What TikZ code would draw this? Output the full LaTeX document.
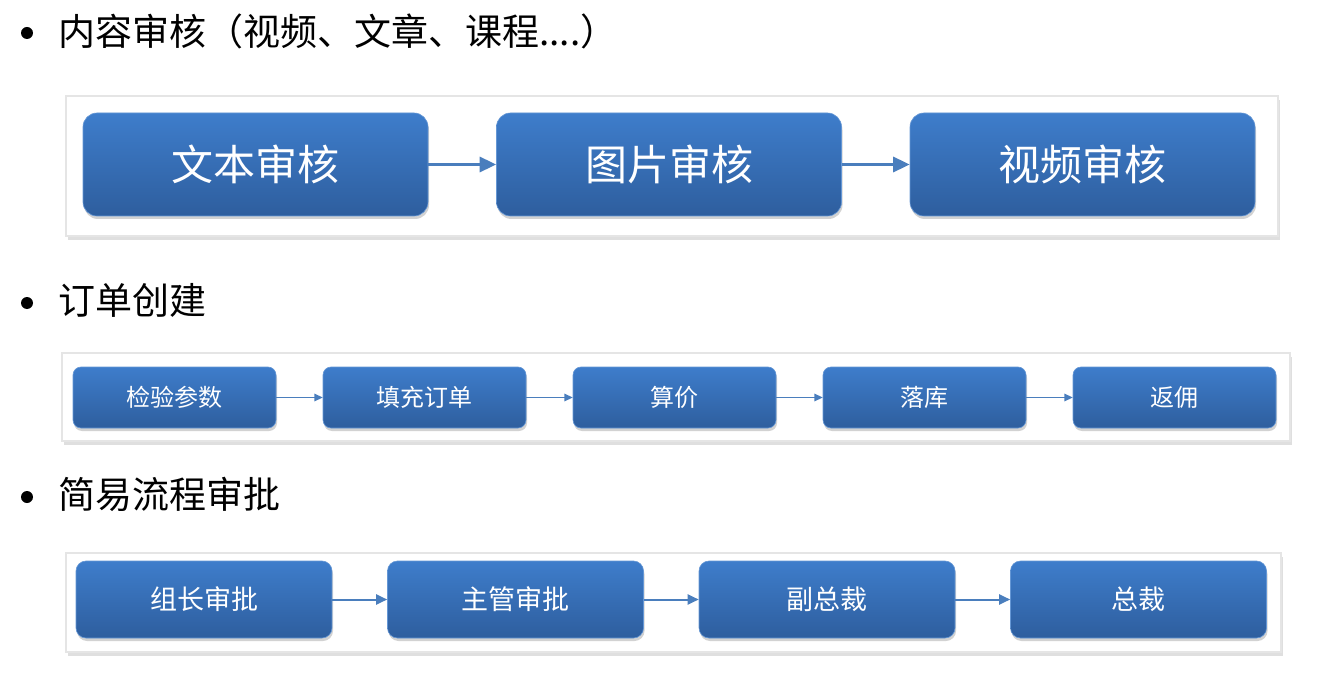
\documentclass[tikz,border=0pt]{standalone}
\usepackage{fontspec}
\usepackage{xcolor}
\usepackage{tikz}
\usetikzlibrary{arrows.meta,shadows}
\newfontfamily\cjk{Noto Sans CJK SC}
\definecolor{boxtop}{HTML}{3E7DCB}
\definecolor{boxbot}{HTML}{2E5E9E}
\definecolor{flowcol}{HTML}{4A7EBD}

\tikzset{
  panel/.style={fill=white,draw=black!10,line width=2pt,
    drop shadow={shadow xshift=2pt,shadow yshift=-4pt,opacity=0.25}},
  stage/.style={rounded corners=#1,top color=boxtop,bottom color=boxbot,
    draw=boxtop!80!white,line width=0.6pt,text=white,inner sep=0pt,
    drop shadow={shadow xshift=1pt,shadow yshift=-3pt,opacity=0.35}},
  flow/.style={draw=flowcol,line width=#1,-{Triangle[length=5.5*#1,width=5*#1]}},
  dot/.style={circle,fill=black,inner sep=0pt,minimum size=12pt},
  heading/.style={anchor=west,inner sep=0pt,font=\cjk\fontsize{37}{37}\selectfont}
}

\begin{document}
\begin{tikzpicture}[x=1pt,y=-1pt,font=\cjk]
\useasboundingbox (0,0) rectangle (1328,687);
% content review
\node[dot] (d1) at (27,33) {};
\node[heading] (h1) at (58,31) {内容审核（视频、文章、课程....）};
\fill[panel] (66,96) rectangle (1278,236);
\node[stage=14pt,minimum width=345pt,minimum height=103pt,font=\cjk\fontsize{42}{42}\selectfont] (t1) at (255.5,164.5) {文本审核};
\node[stage=14pt,minimum width=345pt,minimum height=103pt,font=\cjk\fontsize{42}{42}\selectfont] (t2) at (669,164.5) {图片审核};
\node[stage=14pt,minimum width=345pt,minimum height=103pt,font=\cjk\fontsize{42}{42}\selectfont] (t3) at (1082.5,164.5) {视频审核};
\foreach \a/\b in {t1/t2,t2/t3}{\draw[flow=3pt] (\a)--(\b);}
% order creation
\node[dot] (d2) at (27,303) {};
\node[heading] (h2) at (58,300) {订单创建};
\fill[panel] (62,353) rectangle (1290,441);
\node[stage=8pt,minimum width=203pt,minimum height=61pt,font=\cjk\fontsize{24}{24}\selectfont] (o1) at (174.5,397.5) {检验参数};
\node[stage=8pt,minimum width=203pt,minimum height=61pt,font=\cjk\fontsize{24}{24}\selectfont] (o2) at (424.5,397.5) {填充订单};
\node[stage=8pt,minimum width=203pt,minimum height=61pt,font=\cjk\fontsize{24}{24}\selectfont] (o3) at (674.5,397.5) {算价};
\node[stage=8pt,minimum width=203pt,minimum height=61pt,font=\cjk\fontsize{24}{24}\selectfont] (o4) at (924.5,397.5) {落库};
\node[stage=8pt,minimum width=203pt,minimum height=61pt,font=\cjk\fontsize{24}{24}\selectfont] (o5) at (1174.5,397.5) {返佣};
\foreach \a/\b in {o1/o2,o2/o3,o3/o4,o4/o5}{\draw[flow=1.5pt] (\a)--(\b);}
% approval
\node[dot] (d3) at (27,497) {};
\node[heading] (h3) at (58,494) {简易流程审批};
\fill[panel] (66,553) rectangle (1281,652);
\node[stage=10pt,minimum width=256pt,minimum height=77pt,font=\cjk\fontsize{27}{27}\selectfont] (a1) at (204,599.5) {组长审批};
\node[stage=10pt,minimum width=256pt,minimum height=77pt,font=\cjk\fontsize{27}{27}\selectfont] (a2) at (515.5,599.5) {主管审批};
\node[stage=10pt,minimum width=256pt,minimum height=77pt,font=\cjk\fontsize{27}{27}\selectfont] (a3) at (827,599.5) {副总裁};
\node[stage=10pt,minimum width=256pt,minimum height=77pt,font=\cjk\fontsize{27}{27}\selectfont] (a4) at (1138.5,599.5) {总裁};
\foreach \a/\b in {a1/a2,a2/a3,a3/a4}{\draw[flow=2pt] (\a)--(\b);}
\end{tikzpicture}
\end{document}
